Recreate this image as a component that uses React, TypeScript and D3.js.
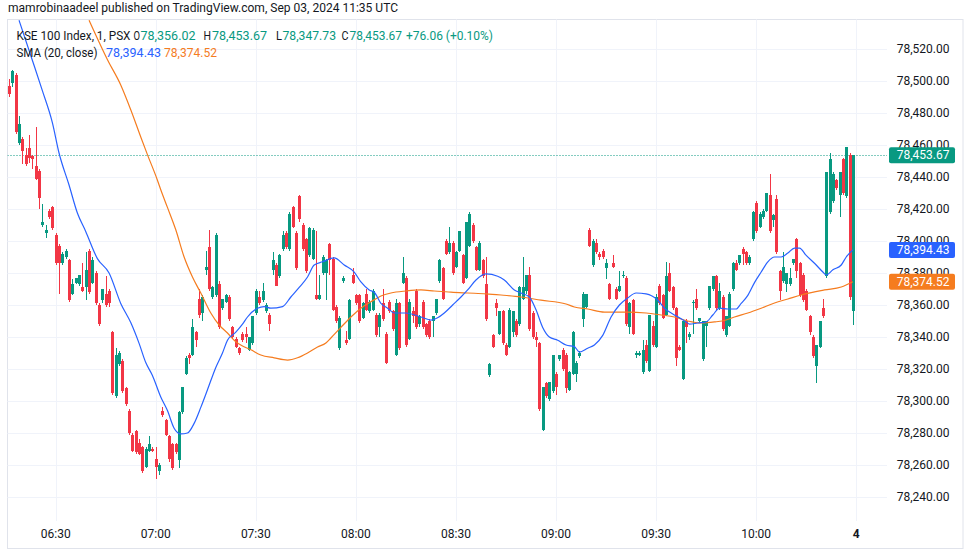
import React from 'react';
import * as d3 from 'd3';

const opens = [
  78497, 78499, 78504, 78461, 78464, 78454, 78458, 78453, 78447, 78444,
  78410, 78405, 78419, 78421, 78404, 78397, 78386, 78390, 78388, 78367,
  78374, 78373, 78371, 78371, 78394, 78374, 78380, 78360, 78363, 78367,
  78369, 78343, 78303, 78323, 78325, 78308, 78294, 78279, 78281, 78274,
  78271, 78259, 78269, 78270, 78264, 78256, 78294, 78288, 78278, 78273,
  78273, 78263, 78293, 78317, 78329, 78329, 78343, 78364, 78355, 78382,
  78396, 78365, 78366, 78373, 78358, 78362, 78365, 78346, 78339, 78333,
  78342, 78342, 78332, 78336, 78355, 78365, 78363, 78356, 78354, 78382,
  78385, 78378, 78395, 78405, 78395, 78421, 78405, 78428, 78410, 78401,
  78391, 78389, 78366, 78364, 78380, 78380, 78398, 78389, 78359, 78333,
  78375, 78338, 78339, 78379, 78366, 78366, 78352, 78367, 78356, 78357,
  78354, 78346, 78361, 78342, 78362, 78356, 78329, 78361, 78374, 78377,
  78339, 78356, 78369, 78348, 78362, 78348, 78350, 78350, 78355, 78375,
  78383, 78400, 78393, 78399, 78384, 78394, 78391, 78377, 78397, 78410,
  78396, 78382, 78388, 78373, 78316, 78341, 78361, 78342, 78356, 78335,
  78334, 78343, 78350, 78348, 78364, 78369, 78379, 78355, 78340, 78336,
  78282, 78311, 78301, 78306, 78317, 78326, 78332, 78329, 78307, 78317,
  78317, 78328, 78351, 78359, 78407, 78385, 78399, 78392, 78394, 78383,
  78373, 78386, 78370, 78369, 78378, 78377, 78346, 78363, 78329, 78329,
  78318, 78335, 78319, 78347, 78334, 78372, 78366, 78354, 78380, 78371,
  78358, 78334, 78314, 78350, 78340, 78361, 78364, 78350, 78326, 78347,
  78358, 78370, 78378, 78358, 78365, 78341, 78347, 78370, 78386, 78386,
  78395, 78393, 78386, 78401, 78424, 78409, 78415, 78419, 78429, 78413,
  78426, 78381, 78375, 78373, 78373, 78386, 78401, 78386, 78379, 78369,
  78353, 78340, 78322, 78334, 78358, 78378, 78418, 78425, 78438, 78429,
  78451, 78428, 78454, 78356.02,
];

const highs = [
  78501, 78507, 78505, 78478, 78465, 78458, 78466, 78454, 78471, 78445,
  78423, 78410, 78420, 78422, 78405, 78398, 78393, 78395, 78389, 78376,
  78377, 78379, 78386, 78393, 78395, 78390, 78381, 78361, 78370, 78378,
  78370, 78344, 78333, 78331, 78326, 78309, 78295, 78280, 78282, 78276,
  78272, 78271, 78278, 78271, 78271, 78261, 78296, 78289, 78279, 78274,
  78274, 78294, 78309, 78328, 78330, 78351, 78344, 78370, 78366, 78394,
  78407, 78372, 78405, 78375, 78364, 78367, 78366, 78347, 78340, 78334,
  78343, 78346, 78340, 78353, 78370, 78369, 78374, 78361, 78355, 78393,
  78386, 78392, 78406, 78406, 78418, 78422, 78406, 78429, 78411, 78402,
  78409, 78408, 78406, 78379, 78391, 78389, 78399, 78390, 78360, 78353,
  78378, 78344, 78364, 78383, 78367, 78367, 78362, 78370, 78363, 78370,
  78355, 78355, 78370, 78343, 78363, 78357, 78364, 78362, 78390, 78378,
  78364, 78359, 78370, 78354, 78363, 78349, 78351, 78353, 78364, 78389,
  78384, 78401, 78409, 78400, 78394, 78406, 78392, 78412, 78418, 78411,
  78397, 78400, 78389, 78390, 78324, 78342, 78364, 78356, 78357, 78336,
  78358, 78356, 78351, 78372, 78390, 78379, 78384, 78356, 78343, 78337,
  78309, 78312, 78312, 78329, 78318, 78329, 78333, 78330, 78319, 78344,
  78325, 78331, 78368, 78367, 78408, 78401, 78401, 78393, 78395, 78389,
  78374, 78391, 78371, 78381, 78381, 78378, 78362, 78364, 78331, 78331,
  78338, 78338, 78354, 78350, 78367, 78373, 78367, 78387, 78386, 78372,
  78359, 78335, 78350, 78351, 78343, 78363, 78370, 78352, 78350, 78350,
  78372, 78378, 78379, 78374, 78366, 78353, 78368, 78387, 78388, 78391,
  78396, 78394, 78391, 78419, 78425, 78418, 78420, 78430, 78442, 78417,
  78429, 78382, 78393, 78380, 78383, 78389, 78402, 78387, 78380, 78370,
  78354, 78341, 78335, 78350, 78364, 78443, 78455, 78443, 78439, 78443,
  78452, 78459, 78455, 78453.67,
];

const lows = [
  78490, 78496, 78467, 78460, 78448, 78447, 78449, 78445, 78438, 78420,
  78409, 78402, 78414, 78407, 78385, 78367, 78385, 78389, 78362, 78366,
  78373, 78372, 78368, 78363, 78367, 78373, 78360, 78347, 78361, 78359,
  78359, 78304, 78302, 78322, 78305, 78297, 78279, 78268, 78267, 78266,
  78255, 78258, 78268, 78268, 78251, 78254, 78290, 78278, 78262, 78257,
  78267, 78258, 78292, 78316, 78323, 78328, 78334, 78352, 78350, 78379,
  78369, 78364, 78365, 78345, 78357, 78361, 78350, 78339, 78333, 78329,
  78337, 78336, 78331, 78335, 78354, 78360, 78362, 78355, 78344, 78379,
  78372, 78377, 78394, 78395, 78394, 78408, 78382, 78412, 78394, 78380,
  78390, 78388, 78363, 78363, 78379, 78363, 78379, 78356, 78349, 78332,
  78374, 78335, 78338, 78373, 78360, 78349, 78351, 78356, 78355, 78356,
  78340, 78340, 78350, 78323, 78355, 78344, 78328, 78332, 78373, 78334,
  78338, 78349, 78345, 78346, 78345, 78340, 78339, 78340, 78354, 78374,
  78363, 78391, 78392, 78379, 78383, 78393, 78373, 78376, 78396, 78399,
  78381, 78381, 78377, 78350, 78315, 78333, 78353, 78341, 78335, 78328,
  78333, 78340, 78340, 78347, 78363, 78367, 78344, 78339, 78334, 78294,
  78281, 78302, 78300, 78305, 78304, 78325, 78319, 78305, 78306, 78316,
  78312, 78327, 78346, 78358, 78396, 78384, 78392, 78388, 78389, 78376,
  78363, 78383, 78363, 78368, 78377, 78347, 78342, 78341, 78327, 78328,
  78317, 78324, 78318, 78334, 78333, 78360, 78351, 78353, 78368, 78357,
  78322, 78331, 78313, 78336, 78338, 78342, 78357, 78349, 78325, 78334,
  78357, 78369, 78357, 78357, 78344, 78340, 78346, 78369, 78381, 78385,
  78385, 78385, 78385, 78400, 78405, 78408, 78414, 78418, 78405, 78409,
  78392, 78363, 78374, 78368, 78372, 78385, 78377, 78365, 78362, 78356,
  78341, 78327, 78311, 78333, 78352, 78377, 78417, 78424, 78432, 78415,
  78429, 78427, 78363, 78347.73,
];

const closes = [
  78492, 78506, 78468, 78473, 78456, 78448, 78452, 78451, 78439, 78427,
  78412, 78407, 78415, 78408, 78386, 78386, 78392, 78394, 78363, 78373,
  78377, 78379, 78369, 78382, 78368, 78388, 78361, 78348, 78370, 78360,
  78361, 78305, 78329, 78330, 78306, 78298, 78280, 78269, 78268, 78267,
  78256, 78270, 78273, 78269, 78259, 78260, 78291, 78279, 78264, 78258,
  78268, 78293, 78309, 78327, 78327, 78346, 78338, 78354, 78365, 78384,
  78370, 78371, 78404, 78346, 78364, 78366, 78351, 78340, 78334, 78330,
  78338, 78340, 78340, 78353, 78369, 78361, 78369, 78360, 78348, 78388,
  78372, 78391, 78404, 78396, 78417, 78409, 78383, 78414, 78395, 78381,
  78408, 78407, 78364, 78366, 78390, 78388, 78388, 78357, 78350, 78352,
  78377, 78336, 78363, 78374, 78361, 78350, 78361, 78357, 78362, 78369,
  78341, 78354, 78351, 78324, 78356, 78345, 78361, 78333, 78380, 78335,
  78362, 78353, 78346, 78353, 78346, 78341, 78340, 78353, 78364, 78388,
  78364, 78392, 78399, 78380, 78393, 78406, 78374, 78412, 78417, 78400,
  78382, 78399, 78378, 78351, 78323, 78334, 78358, 78356, 78336, 78329,
  78357, 78356, 78341, 78371, 78371, 78379, 78345, 78340, 78338, 78295,
  78309, 78303, 78312, 78329, 78309, 78329, 78320, 78308, 78318, 78343,
  78324, 78330, 78367, 78367, 78397, 78400, 78393, 78390, 78390, 78386,
  78364, 78384, 78364, 78372, 78379, 78348, 78361, 78342, 78330, 78330,
  78332, 78325, 78354, 78335, 78365, 78361, 78352, 78378, 78369, 78358,
  78327, 78332, 78350, 78346, 78342, 78362, 78358, 78352, 78350, 78350,
  78372, 78378, 78358, 78369, 78345, 78353, 78367, 78386, 78382, 78391,
  78392, 78386, 78390, 78418, 78406, 78417, 78419, 78430, 78406, 78416,
  78393, 78369, 78384, 78380, 78377, 78389, 78381, 78366, 78363, 78357,
  78343, 78328, 78335, 78350, 78353, 78443, 78451, 78442, 78433, 78443,
  78430, 78459, 78365, 78453.67,
];

// SMA (20, close) readings: bar position and value
const smaBars = [
  3, 7, 10, 13, 15, 18, 20.5, 23, 26.5, 30, 33.5, 36.5, 39, 41, 43, 45.5, 47.5, 49.5, 51.5, 53.5,
  55.5, 57.5, 59.5, 62, 64, 65.5, 68, 70, 71.5, 74.5, 76.5, 78.5, 82, 84.5, 87, 89.5, 91.5, 94, 97.5,
  100.5, 103.5, 105.5, 108, 109.5, 111.5, 113.5, 115.5, 119, 123.5, 126.5, 128.5, 130.5, 133, 135.5,
  137.5, 140, 143, 146.5, 148.5, 151.5, 153.5, 156, 158, 160, 162, 164.5, 167, 169.5, 171, 173.5,
  175.5, 178, 180.5, 183, 185.5, 188, 191, 194.5, 196.5, 199, 201, 203, 204, 206.5, 209, 211, 213,
  215.5, 218, 219.5, 221.5, 223.5, 225.5, 227.5, 229.5, 231.5, 233.5, 235.5, 237, 239, 242, 244,
  245, 247, 249.5, 251, 253,
];
const smaValues = [
  78538, 78513, 78494, 78474, 78455, 78435, 78417.5, 78406, 78389, 78380, 78361, 78349, 78336, 78324,
  78316, 78302.5, 78294, 78283, 78279.4, 78280, 78286, 78296, 78307, 78321, 78330, 78338, 78343,
  78348, 78352.5, 78358, 78359, 78358, 78359, 78365, 78371, 78377.5, 78385, 78387, 78389.4, 78385,
  78380.6, 78374.4, 78369.4, 78368, 78361, 78358, 78355, 78355, 78352.5, 78350.6, 78352, 78355,
  78360, 78365, 78369.4, 78375.6, 78379.4, 78378, 78375.6, 78369.4, 78367.5, 78365, 78357, 78346,
  78340, 78338, 78335, 78334, 78330.6, 78333, 78335, 78341, 78352.5, 78360, 78364.4, 78367.5, 78367,
  78363, 78358, 78354.4, 78352, 78349.4, 78348, 78348.75, 78349.4, 78353.75, 78358, 78357.5,
  78357.5, 78361, 78366, 78374, 78380.6, 78387, 78390, 78390, 78392.5, 78395.6, 78395.6, 78391,
  78385, 78380.6, 78378.75, 78382, 78385, 78390, 78394.43,
];

// Smoothing line readings
const smoothBars = [
  24, 29.6, 33.5, 36.5, 39.5, 41.5, 44.5, 45.5, 47.5, 50, 52.5, 55, 57.5, 60.5, 63, 65.5, 68, 70,
  72.5, 75.5, 79.5, 83.5, 86.5, 89.5, 92.5, 95, 96.5, 99.5, 102.5, 105.5, 108.5, 111.5, 114.5, 119,
  123.5, 127.5, 132.5, 137.5, 143, 147.5, 153.5, 159.5, 167, 169.5, 173.5, 178.5, 185.5, 191, 195.5,
  199.5, 203.5, 207.5, 211.5, 215, 217.5, 221.5, 225.5, 229.5, 233.5, 237.5, 244.5, 249.5, 253,
];
const smoothValues = [
  78538, 78513, 78497.5, 78482, 78465, 78454, 78438, 78432, 78421, 78407, 78390, 78377.5, 78367.5,
  78355, 78347.5, 78342.5, 78337, 78334.4, 78332, 78328.75, 78327, 78325.6, 78327, 78330, 78333.75,
  78336.25, 78339.4, 78346, 78352.5, 78358, 78362, 78365.6, 78367.5, 78368.75, 78369.4, 78368.75,
  78368, 78367.5, 78367, 78366.25, 78365, 78363, 78360.6, 78358.75, 78357.5, 78355.6, 78355.6, 78355,
  78353.75, 78352.5, 78350, 78348.75, 78349.4, 78350.6, 78352.5, 78355, 78358, 78361.25, 78363.75,
  78366.25, 78369.4, 78371.25, 78374.52,
];

const priceTicks = [78240, 78260, 78280, 78300, 78320, 78340, 78360, 78380, 78400, 78420, 78440, 78460, 78480, 78500, 78520];
const timeTickBars = [14, 44, 74, 104, 134, 164, 194, 224, 254];
const timeTickLabels = ['06:30', '07:00', '07:30', '08:00', '08:30', '09:00', '09:30', '10:00', '4'];

const lastClose = 78453.67;
const lastSma = 78394.43;
const lastSmooth = 78374.52;

const UP = '#089981';
const DOWN = '#f23645';
const BLUE = '#2962ff';
const ORANGE = '#f57c1f';
const TEXT = '#131722';
const FONT = 'Roboto, "Liberation Sans", sans-serif';

type Run = { t: string; x: number; w: number; c: string };

const legend1: Run[] = [
  { t: 'KSE 100 Index, 1, PSX', x: 16.5, w: 114, c: TEXT },
  { t: 'O', x: 133.5, w: 6.5, c: TEXT },
  { t: '78,356.02', x: 140.5, w: 55, c: UP },
  { t: 'H', x: 203.5, w: 7.5, c: TEXT },
  { t: '78,453.67', x: 212, w: 55, c: UP },
  { t: 'L', x: 276, w: 6, c: TEXT },
  { t: '78,347.73', x: 282.5, w: 53.5, c: UP },
  { t: 'C', x: 341.5, w: 7, c: TEXT },
  { t: '78,453.67', x: 349.5, w: 52.5, c: UP },
  { t: '+76.06 (+0.10%)', x: 406, w: 87, c: UP },
];
const legend2: Run[] = [
  { t: 'SMA (20, close)', x: 16.5, w: 81, c: TEXT },
  { t: '78,394.43', x: 106, w: 55, c: BLUE },
  { t: '78,374.52', x: 164, w: 53, c: ORANGE },
];

export default function App() {
  const W = 964;
  const H = 553;
  const plotL = 7.5, plotR = 887, plotT = 19.5, plotB = 521;

  const x = d3.scaleLinear().domain([0, 253]).range([9.0, 852.9]);
  const y = d3.scaleLinear().domain([78240, 78520]).range([497, 49]);
  const fmt = d3.format(',.2f');

  const line = d3
    .line<[number, number]>()
    .x((d) => x(d[0]))
    .y((d) => y(d[1]))
    .curve(d3.curveMonotoneX);

  const smaPath = line(smaBars.map((b, i) => [b, smaValues[i]] as [number, number])) || '';
  const smoothPath = line(smoothBars.map((b, i) => [b, smoothValues[i]] as [number, number])) || '';

  const candles = opens.map((o, i) => {
    const c = closes[i];
    const hi = highs[i];
    const lo = lows[i];
    const up = c >= o;
    const cx = Math.round(x(i));
    const top = y(Math.max(o, c));
    const bot = y(Math.min(o, c));
    return (
      <g key={i} fill={up ? UP : DOWN}>
        <rect x={cx} y={y(hi)} width={1} height={Math.max(1, y(lo) - y(hi))} />
        <rect x={cx - 1} y={top} width={3} height={Math.max(1, bot - top)} />
      </g>
    );
  });

  const boxes = [
    { v: lastClose, c: UP },
    { v: lastSma, c: BLUE },
    { v: lastSmooth, c: ORANGE },
  ];

  const runs = (rs: Run[], yy: number) =>
    rs.map((r, i) => (
      <text
        key={i}
        x={r.x}
        y={yy}
        fontSize={12.5}
        fill={r.c}
        textLength={r.w}
        lengthAdjust="spacingAndGlyphs"
      >
        {r.t}
      </text>
    ));

  return (
    <svg
      width={W}
      height={H}
      viewBox={`0 0 ${W} ${H}`}
      style={{ position: 'absolute', left: 0, top: 0, background: '#ffffff', fontFamily: FONT }}
    >
      <rect x={0} y={0} width={W} height={H} fill="#ffffff" />
      <defs>
        <clipPath id="plotclip">
          <rect x={plotL} y={plotT} width={plotR - plotL} height={plotB - plotT} />
        </clipPath>
      </defs>

      {/* header */}
      <text x={8} y={12} fontSize={12} fill={TEXT} textLength={390} lengthAdjust="spacingAndGlyphs">
        mamrobinaadeel published on TradingView.com, Sep 03, 2024 11:35 UTC
      </text>

      {/* frame */}
      <rect x={plotL} y={plotT} width={W - 1 - plotL} height={548.5 - plotT} fill="none" stroke="#e0e3eb" strokeWidth={1} />

      {/* grid */}
      <g stroke="#f0f3fa" strokeWidth={1}>
        {priceTicks.map((p) => (
          <line key={p} x1={plotL} x2={plotR} y1={Math.round(y(p)) + 0.5} y2={Math.round(y(p)) + 0.5} />
        ))}
        {timeTickBars.map((b) => (
          <line key={b} x1={Math.round(x(b)) + 0.5} x2={Math.round(x(b)) + 0.5} y1={plotT} y2={plotB} />
        ))}
      </g>

      <g clipPath="url(#plotclip)">
        {/* last price dotted line */}
        <line
          x1={plotL}
          x2={plotR}
          y1={Math.round(y(lastClose)) + 0.5}
          y2={Math.round(y(lastClose)) + 0.5}
          stroke={UP}
          strokeWidth={1}
          strokeDasharray="1 2"
        />
        <g shapeRendering="crispEdges">{candles}</g>
        <path d={smoothPath} fill="none" stroke={ORANGE} strokeWidth={1.2} />
        <path d={smaPath} fill="none" stroke={BLUE} strokeWidth={1.2} />
      </g>

      {/* legend */}
      {runs(legend1, 39.5)}
      {runs(legend2, 56.5)}

      {/* price axis */}
      <g fontSize={12} fill={TEXT} textAnchor="end">
        {priceTicks.map((p) => (
          <text key={p} x={949.5} y={y(p) + 4.2}>
            {fmt(p)}
          </text>
        ))}
      </g>

      {boxes.map((b) => (
        <g key={b.v}>
          <rect x={889} y={y(b.v) - 8} width={66} height={16} rx={2} fill={b.c} />
          <text x={949.5} y={y(b.v) + 4.2} fontSize={12} fill="#ffffff" textAnchor="end">
            {fmt(b.v)}
          </text>
        </g>
      ))}

      {/* time axis */}
      <g fontSize={12} fill={TEXT} textAnchor="middle">
        {timeTickBars.map((b, i) => (
          <text key={b} x={x(b)} y={538} fontWeight={timeTickLabels[i] === '4' ? 'bold' : 'normal'}>
            {timeTickLabels[i]}
          </text>
        ))}
      </g>
    </svg>
  );
}
